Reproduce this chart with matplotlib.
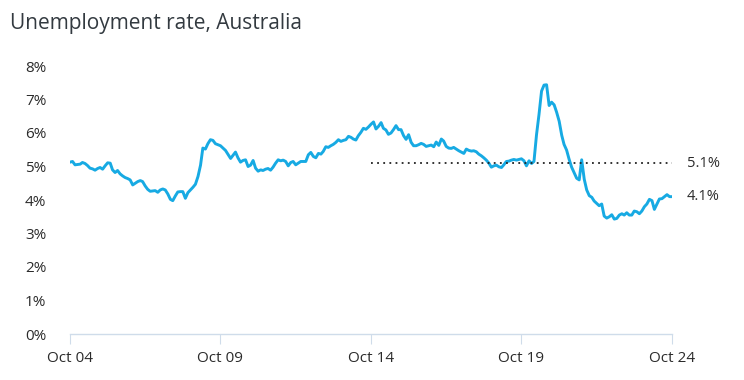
import matplotlib
matplotlib.use('Agg')
import matplotlib.pyplot as plt
import pandas as pd

plt.rcParams['font.family'] = ['Open Sans', 'DejaVu Sans']

# monthly unemployment rate (%), Oct 2004 - Oct 2024
rate = [
    5.13, 5.15, 5.05, 5.06, 5.07, 5.12, 5.09, 5.03, 4.95, 4.93, 4.89, 4.94,
    4.97, 4.92, 5.02, 5.11, 5.10, 4.90, 4.82, 4.88, 4.78, 4.72, 4.67, 4.64,
    4.60, 4.45, 4.50, 4.55, 4.58, 4.55, 4.42, 4.32, 4.26, 4.27, 4.28, 4.23,
    4.30, 4.33, 4.30, 4.18, 4.02, 3.98, 4.12, 4.24, 4.25, 4.25, 4.05, 4.22,
    4.30, 4.38, 4.47, 4.70, 5.04, 5.55, 5.52, 5.68, 5.80, 5.78, 5.68, 5.65,
    5.62, 5.55, 5.48, 5.36, 5.24, 5.33, 5.43, 5.26, 5.13, 5.18, 5.20, 5.00,
    5.04, 5.18, 4.95, 4.86, 4.90, 4.88, 4.92, 4.94, 4.89, 4.98, 5.10, 5.20,
    5.17, 5.19, 5.15, 5.02, 5.12, 5.15, 5.05, 5.10, 5.15, 5.15, 5.15, 5.35,
    5.42, 5.30, 5.26, 5.39, 5.37, 5.45, 5.59, 5.57, 5.62, 5.66, 5.72, 5.80,
    5.75, 5.78, 5.80, 5.90, 5.87, 5.82, 5.79, 5.92, 6.02, 6.14, 6.11, 6.18,
    6.26, 6.33, 6.12, 6.20, 6.31, 6.14, 6.09, 5.96, 6.00, 6.10, 6.22, 6.10,
    6.10, 5.92, 5.81, 5.95, 5.72, 5.62, 5.62, 5.65, 5.69, 5.66, 5.60, 5.62,
    5.64, 5.59, 5.73, 5.63, 5.82, 5.76, 5.60, 5.55, 5.54, 5.57, 5.52, 5.47,
    5.43, 5.39, 5.52, 5.48, 5.46, 5.47, 5.44, 5.37, 5.32, 5.26, 5.19, 5.10,
    4.98, 5.02, 5.04, 4.99, 4.97, 5.05, 5.15, 5.16, 5.19, 5.21, 5.19, 5.21,
    5.23, 5.17, 5.02, 5.17, 5.09, 5.15, 5.95, 6.55, 7.25, 7.43, 7.44, 6.82,
    6.92, 6.84, 6.62, 6.35, 5.93, 5.66, 5.49, 5.22, 4.98, 4.82, 4.65, 4.60,
    5.20, 4.62, 4.30, 4.13, 4.08, 3.97, 3.90, 3.83, 3.88, 3.52, 3.46, 3.50,
    3.56, 3.43, 3.45, 3.55, 3.59, 3.55, 3.62, 3.55, 3.55, 3.67, 3.65, 3.59,
    3.67, 3.80, 3.88, 4.02, 3.98, 3.72, 3.88, 4.03, 4.04, 4.10, 4.16, 4.10,
    4.10,
]
dates = pd.date_range('2004-10-01', periods=len(rate), freq='MS')

avg_value = 5.1
avg_start = '2014-10-01'
avg_end = '2024-10-01'

tick_dates = pd.to_datetime(['2004-10-01', '2009-10-01', '2014-10-01',
                             '2019-10-01', '2024-10-01'])
tick_labels = ['Oct 04', 'Oct 09', 'Oct 14', 'Oct 19', 'Oct 24']
y_ticks = [0, 1, 2, 3, 4, 5, 6, 7, 8]

text_col = '#2b2b2b'
line_col = '#17aae3'
axis_col = '#cfdcea'

fig = plt.figure(figsize=(7.44, 3.80), dpi=100)
ax = fig.add_axes([70 / 744, 1 - 334 / 380, 602 / 744, 268 / 380])

ax.plot(dates, rate, color=line_col, lw=2.1, solid_joinstyle='round')
ax.plot(pd.to_datetime([avg_start, avg_end]), [avg_value, avg_value],
        color='#222222', lw=1.3, ls=(0, (1, 2.4)))

ax.text(1.025, avg_value, '5.1%', transform=ax.get_yaxis_transform(),
        va='center', ha='left', fontsize=10.5, color=text_col)
ax.text(1.025, rate[-1], '4.1%', transform=ax.get_yaxis_transform(),
        va='center', ha='left', fontsize=10.5, color=text_col)

ax.set_xlim(dates[0], dates[-1])
ax.set_ylim(0, 8)
ax.set_xticks(tick_dates)
ax.set_xticklabels(tick_labels)
ax.set_yticks(y_ticks)
ax.set_yticklabels([f'{v}%' for v in y_ticks])

for s in ['top', 'right', 'left']:
    ax.spines[s].set_visible(False)
ax.spines['bottom'].set_color(axis_col)
ax.spines['bottom'].set_linewidth(1.0)
ax.tick_params(axis='x', length=7, color=axis_col, labelsize=11,
               labelcolor=text_col, pad=5)
ax.tick_params(axis='y', length=0, labelsize=11, labelcolor=text_col, pad=17)

fig.text(10 / 744, 1 - 24 / 380, 'Unemployment rate, Australia',
         fontsize=15, color='#333a40', va='center', ha='left')

fig.savefig('out.png', dpi=100, facecolor='white')
